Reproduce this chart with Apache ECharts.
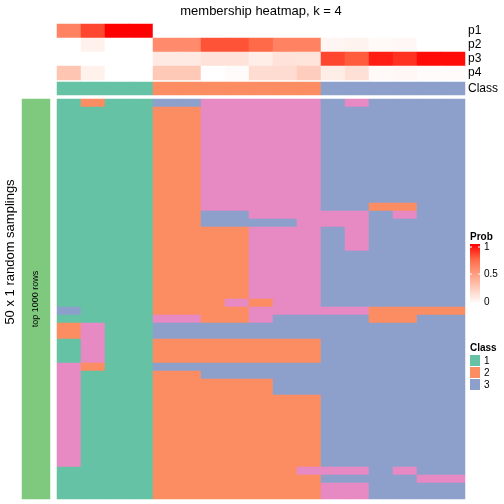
<!DOCTYPE html>
<html>
<head>
<meta charset="utf-8">
<script src="https://cdn.jsdelivr.net/npm/echarts@6/dist/echarts.min.js"></script>
<style>html,body{margin:0;padding:0;background:#fff;}#c{width:504px;height:504px;}</style>
</head>
<body>
<div id="c"></div>
<script>
// ---- data ----
const columns = ['c01','c02','c03','c04','c05','c06','c07','c08','c09','c10','c11','c12','c13','c14','c15','c16','c17'];
const probNames = ['p1','p2','p3','p4'];
const p1 = [0.63,0.83,1.00,1.00,0,0,0,0,0,0,0,0,0,0,0,0,0];
const p2 = [0.00,0.07,0.00,0.00,0.59,0.59,0.80,0.80,0.74,0.63,0.63,0.05,0.06,0.03,0.04,0.00,0.00];
const p3 = [0.00,0.00,0.00,0.00,0.11,0.11,0.15,0.15,0.09,0.15,0.14,0.83,0.78,0.93,0.88,0.97,0.97];
const p4 = [0.30,0.07,0.00,0.00,0.28,0.28,0.00,0.02,0.18,0.18,0.26,0.09,0.16,0.03,0.04,0.02,0.02];
const classRow = [1,1,1,1,2,2,2,2,2,2,2,3,3,3,3,3,3];
const classNames = ['1','2','3'];
// 50 random samplings (rows, top to bottom), one class digit per column
const samplings = [
  "12113344444343333",
  "11112244444333333","11112244444333333","11112244444333333","11112244444333333",
  "11112244444333333","11112244444333333","11112244444333333","11112244444333333",
  "11112244444333333","11112244444333333","11112244444333333","11112244444333333",
  "11112244444332233",
  "11112233444443433",
  "11112233334443333",
  "11112222444343333","11112222444343333","11112222444343333",
  "11112222444333333","11112222444333333","11112222444333333","11112222444333333",
  "11112222444333333","11112222444333333",
  "11112224244333333",
  "31112222444442222",
  "11114422433332233",
  "24113333333333333","24113333333333333",
  "14112222222333333","14112222222333333","14112222222333333",
  "42113333333333333",
  "41112233333333333",
  "41112222233333333","41112222233333333",
  "41112222222333333","41112222222333333","41112222222333333","41112222222333333",
  "41112222222333333","41112222222333333","41112222222333333","41112222222333333",
  "41112222222333333",
  "11112222224443433",
  "11112222222333344",
  "11112222222443333","11112222222443333"
];
const rowAnno = ['top 1000 rows'];

// ---- build ----
const probMatrix = [p1,p2,p3,p4];
const probData = [];
probMatrix.forEach((row, r) => row.forEach((v, c) => probData.push([c, r, v])));
const classData = classRow.map((v, c) => [c, 0, v]);
const rowIds = samplings.map((s, i) => 'r' + (i + 1));
const bodyData = [];
samplings.forEach((s, r) => { for (let c = 0; c < s.length; c++) bodyData.push([c, r, +s[c]]); });
const annoData = [[0, 0, 5]];

const ramp = ['#FFFFFF','#FFCFBF','#FF9E81','#FF6846','#FF0000'];
const FONT = 'Liberation Sans, Arial, sans-serif';

const hiddenX = (i) => ({type:'category', gridIndex:i, data: i===3 ? rowAnno : columns, show:false});
const chart = echarts.init(document.getElementById('c'), null, {renderer:'canvas'});
chart.setOption({
  animation:false,
  textStyle:{fontFamily:FONT},
  grid:[
    {left:57, top:24, width:408, height:56},
    {left:57, top:82, width:408, height:13},
    {left:57, top:99, width:408, height:400},
    {left:22, top:99, width:28, height:400}
  ],
  xAxis:[hiddenX(0),hiddenX(1),hiddenX(2),hiddenX(3)],
  yAxis:[
    {type:'category', gridIndex:0, data:probNames, inverse:true, position:'right',
     axisLine:{show:false}, axisTick:{show:false}, splitLine:{show:false},
     axisLabel:{color:'#000', fontSize:12, margin:3, interval:0, fontFamily:FONT}},
    {type:'category', gridIndex:1, data:['Class'], position:'right',
     axisLine:{show:false}, axisTick:{show:false}, splitLine:{show:false},
     axisLabel:{color:'#000', fontSize:12, margin:3, interval:0, fontFamily:FONT}},
    {type:'category', gridIndex:2, data:rowIds, inverse:true, show:false},
    {type:'category', gridIndex:3, data:['anno'], show:false}
  ],
  visualMap:[
    {type:'continuous', min:0, max:1, seriesIndex:0, show:false, inRange:{color:ramp}},
    {type:'piecewise', seriesIndex:[1,2,3], show:false,
     pieces:[{value:1,color:'#66C2A5'},{value:2,color:'#FC8D62'},{value:3,color:'#8DA0CB'},{value:4,color:'#E78AC3'},{value:5,color:'#7FC97F'}]}
  ],
  series:[
    {type:'heatmap', xAxisIndex:0, yAxisIndex:0, data:probData, emphasis:{disabled:true}},
    {type:'heatmap', xAxisIndex:1, yAxisIndex:1, data:classData, emphasis:{disabled:true}},
    {type:'heatmap', xAxisIndex:2, yAxisIndex:2, data:bodyData, emphasis:{disabled:true}},
    {type:'heatmap', xAxisIndex:3, yAxisIndex:3, data:annoData, emphasis:{disabled:true}}
  ],
  graphic:{elements:[
    {type:'text', z:100, x:261, y:11, style:{text:'membership heatmap, k = 4', font:'13px '+FONT, fill:'#000', align:'center', verticalAlign:'middle'}},
    {type:'text', z:100, x:10, y:252, rotation:Math.PI/2, style:{text:'50 x 1 random samplings', font:'13px '+FONT, fill:'#000', align:'center', verticalAlign:'middle'}},
    {type:'text', z:100, x:36, y:299, rotation:Math.PI/2, style:{text:rowAnno[0], font:'9px '+FONT, fill:'#000', align:'center', verticalAlign:'middle'}},
    // Prob legend
    {type:'text', z:100, x:470, y:237, style:{text:'Prob', font:'bold 10px '+FONT, fill:'#000', align:'left', verticalAlign:'middle'}},
    {type:'rect', z:100, shape:{x:470, y:244, width:10, height:60},
     style:{fill:new echarts.graphic.LinearGradient(0,1,0,0,[
       {offset:0,color:ramp[0]},{offset:0.25,color:ramp[1]},{offset:0.5,color:ramp[2]},{offset:0.75,color:ramp[3]},{offset:1,color:ramp[4]}])}},
    {type:'line', z:101, shape:{x1:470,y1:274,x2:472,y2:274}, style:{stroke:'#fff', lineWidth:1}},
    {type:'line', z:101, shape:{x1:478,y1:274,x2:480,y2:274}, style:{stroke:'#fff', lineWidth:1}},
    {type:'line', z:101, shape:{x1:470,y1:247,x2:472,y2:247}, style:{stroke:'#fff', lineWidth:1}},
    {type:'line', z:101, shape:{x1:478,y1:247,x2:480,y2:247}, style:{stroke:'#fff', lineWidth:1}},
    {type:'text', z:100, x:484, y:247, style:{text:'1', font:'10px '+FONT, fill:'#000', verticalAlign:'middle'}},
    {type:'text', z:100, x:484, y:274, style:{text:'0.5', font:'10px '+FONT, fill:'#000', verticalAlign:'middle'}},
    {type:'text', z:100, x:484, y:302, style:{text:'0', font:'10px '+FONT, fill:'#000', verticalAlign:'middle'}},
    // Class legend
    {type:'text', z:100, x:470, y:348, style:{text:'Class', font:'bold 10px '+FONT, fill:'#000', verticalAlign:'middle'}},
    {type:'rect', z:100, shape:{x:470, y:355, width:10, height:11}, style:{fill:'#66C2A5'}},
    {type:'rect', z:100, shape:{x:470, y:367, width:10, height:11}, style:{fill:'#FC8D62'}},
    {type:'rect', z:100, shape:{x:470, y:379, width:10, height:11}, style:{fill:'#8DA0CB'}},
    {type:'text', z:100, x:484, y:361, style:{text:classNames[0], font:'10px '+FONT, fill:'#000', verticalAlign:'middle'}},
    {type:'text', z:100, x:484, y:373, style:{text:classNames[1], font:'10px '+FONT, fill:'#000', verticalAlign:'middle'}},
    {type:'text', z:100, x:484, y:385, style:{text:classNames[2], font:'10px '+FONT, fill:'#000', verticalAlign:'middle'}}
  ]}
});
</script>
</body>
</html>
